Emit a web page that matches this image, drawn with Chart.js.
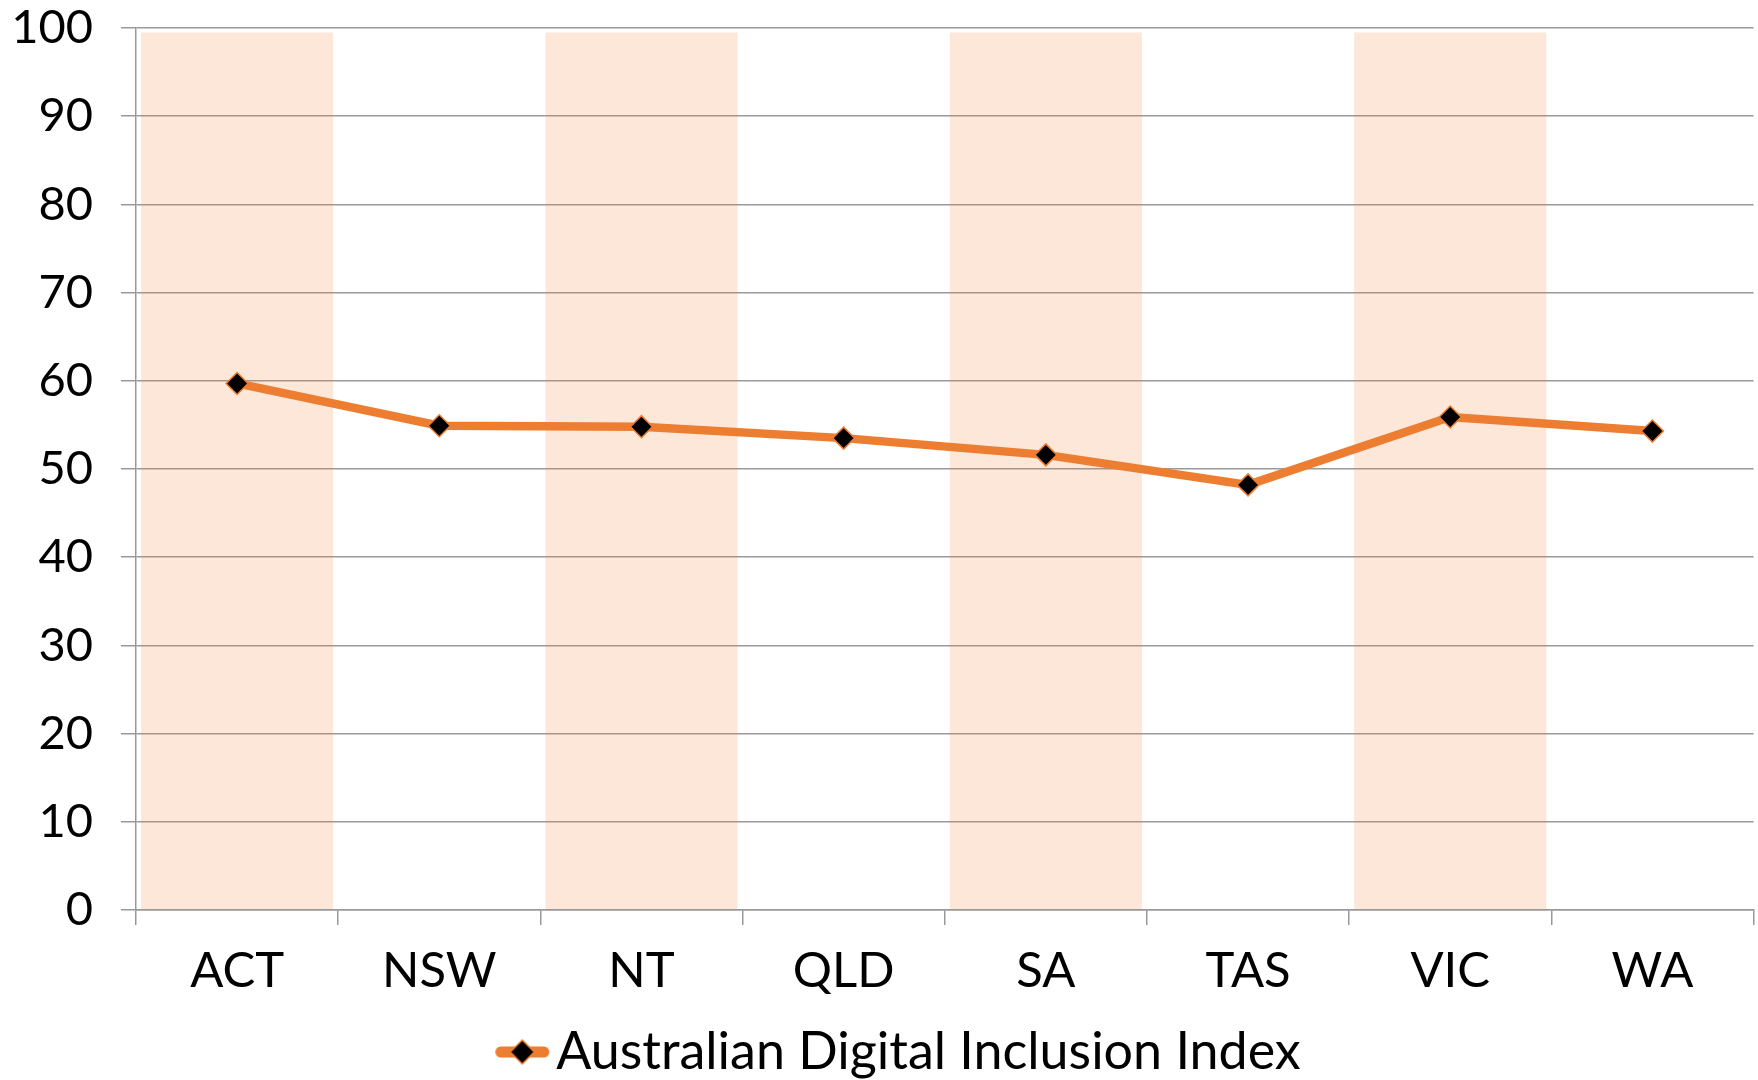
<!DOCTYPE html>
<html>
<head>
<meta charset="utf-8">
<script src="https://cdn.jsdelivr.net/npm/chart.js@4.4.1/dist/chart.umd.min.js"></script>
<style>
    html, body { margin: 0; padding: 0; background: #fff; overflow: hidden; }
    #wrap { width: 1766px; height: 1080px; position: relative; }
</style>
</head>
<body>
<div id="wrap"><canvas id="chart"></canvas></div>
<script>
// dados
const states = ['ACT', 'NSW', 'NT', 'QLD', 'SA', 'TAS', 'VIC', 'WA'];
const indexValues = [59.7, 54.9, 54.8, 53.5, 51.6, 48.2, 55.9, 54.3];
const bandValues = [99.5, null, 99.5, null, 99.5, null, 99.5, null];
const yTicks = [0, 10, 20, 30, 40, 50, 60, 70, 80, 90, 100];
const seriesName = 'Australian Digital Inclusion Index';

const orange = '#ED7D31';
const gridGray = '#999999';

// amostra da legenda: linha laranja com losango preto (parte esquerda transparente p/ centralizar)
function legendMark() {
    const c = document.createElement('canvas');
    c.width = 107;
    c.height = 30;
    const g = c.getContext('2d');
    g.strokeStyle = orange;
    g.lineWidth = 11;
    g.lineCap = 'round';
    g.beginPath();
    g.moveTo(56.5, 15);
    g.lineTo(99.5, 15);
    g.stroke();
    g.beginPath();
    g.moveTo(78, 3);
    g.lineTo(90, 15);
    g.lineTo(78, 27);
    g.lineTo(66, 15);
    g.closePath();
    g.fillStyle = '#000';
    g.fill();
    g.lineWidth = 1.5;
    g.stroke();
    return c;
}
const mark = legendMark();

const ctx = document.getElementById('chart').getContext('2d');
new Chart(ctx, {
    type: 'bar',
    data: {
        labels: states,
        datasets: [{
                type: 'line',
                label: seriesName,
                data: indexValues,
                borderColor: orange,
                borderWidth: 8.5,
                tension: 0,
                pointStyle: 'rectRot',
                pointRadius: 11,
                pointHoverRadius: 11,
                pointBackgroundColor: '#000',
                pointBorderColor: orange,
                pointBorderWidth: 1.5
            }, {
                type: 'bar',
                label: 'bands',
                data: bandValues,
                backgroundColor: 'rgba(237, 125, 49, 0.19)',
                borderWidth: 0,
                categoryPercentage: 1,
                barPercentage: 0.95,
                skipNull: true
            }]
    },
    options: {
        responsive: true,
        maintainAspectRatio: false,
        animation: false,
        layout: {padding: {top: 0, left: 0, right: 0, bottom: -8}},
        plugins: {
            tooltip: {enabled: false},
            legend: {
                position: 'bottom',
                labels: {
                    usePointStyle: true,
                    pointStyleWidth: 65,
                    padding: 6,
                    color: '#000',
                    font: {family: 'Lato', size: 52},
                    generateLabels: () => [{
                            text: seriesName,
                            pointStyle: mark,
                            fontColor: '#000',
                            lineWidth: 0,
                            hidden: false,
                            datasetIndex: 0
                        }]
                }
            }
        },
        scales: {
            x: {
                grid: {
                    offset: true,
                    drawOnChartArea: false,
                    drawTicks: true,
                    tickLength: 15,
                    color: gridGray,
                    lineWidth: 1.5
                },
                border: {display: true, color: gridGray, width: 1.5},
                ticks: {
                    color: '#000',
                    padding: 17,
                    font: {family: 'Lato', size: 49}
                },
                afterFit: scale => { scale.height = 110; }
            },
            y: {
                min: 0,
                max: 100,
                afterBuildTicks: scale => { scale.ticks = yTicks.map(v => ({value: v})); },
                grid: {
                    color: gridGray,
                    lineWidth: 1.5,
                    drawTicks: true,
                    tickLength: 15
                },
                border: {display: true, color: gridGray, width: 1.5},
                ticks: {
                    color: '#000',
                    padding: 28,
                    font: {family: 'Lato', size: 47}
                },
                afterFit: scale => {
                    scale.width = 136;
                    scale.paddingTop = 28;
                    scale.paddingBottom = 0;
                }
            }
        }
    }
});
</script>
</body>
</html>
